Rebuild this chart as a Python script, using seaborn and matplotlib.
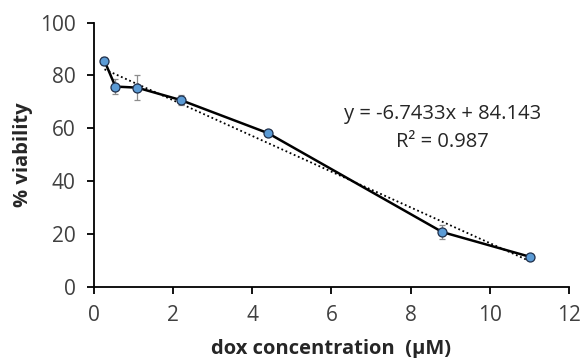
import numpy as np
import pandas as pd
import seaborn as sns
import matplotlib.pyplot as plt

# data
dose = [0.275, 0.55, 1.1, 2.2, 4.4, 8.8, 11.0]
viability = [85.5, 75.8, 75.4, 70.7, 58.2, 20.8, 11.5]
viability_sd = [1.5, 2.8, 4.8, 1.8, 1.2, 2.8, 1.0]

df = pd.DataFrame({'dose': dose, 'viability': viability, 'sd': viability_sd})

sns.set_style('white')
plt.rcParams['font.family'] = ['Open Sans', 'DejaVu Sans']
plt.rcParams['font.size'] = 14

fig = plt.figure(figsize=(5.85, 3.58), dpi=100)
ax = fig.add_axes([0.16, 0.198, 0.813, 0.739])

# trendline (dotted)
sns.regplot(data=df, x='dose', y='viability', ci=None, scatter=False, truncate=True,
            line_kws={'color': 'black', 'linestyle': (0, (1, 1.5)), 'linewidth': 1.3}, ax=ax)

ax.errorbar(df['dose'], df['viability'], yerr=df['sd'], fmt='none',
            ecolor='#8c8c8c', elinewidth=0.9, capsize=2.5, capthick=0.9, zorder=2)
sns.lineplot(data=df, x='dose', y='viability', color='black', linewidth=1.8,
             marker='o', markersize=6.5, markerfacecolor='#5b9bd5',
             markeredgecolor='#1f2f4a', markeredgewidth=0.9, zorder=3, ax=ax)

ax.text(8.8, 65.5, 'y = -6.7433x + 84.143', ha='center', va='center', fontsize=14.5, color='#262626')
ax.text(8.8, 55.0, 'R² = 0.987', ha='center', va='center', fontsize=14.5, color='#262626')

ax.set_xlim(0, 12)
ax.set_ylim(0, 100)
ax.set_xticks(range(0, 13, 2))
ax.set_yticks(range(0, 101, 20))
ax.set_xlabel('dox concentration  (µM)', fontweight='bold', fontsize=14.5, color='#262626', labelpad=9)
ax.set_ylabel('% viability', fontweight='bold', fontsize=14.5, color='#262626', labelpad=5)

sns.despine(ax=ax)
for s in ['left', 'bottom']:
    ax.spines[s].set_color('black')
    ax.spines[s].set_linewidth(1.3)
ax.tick_params(axis='both', direction='out', length=5, width=1.3, color='black',
               labelsize=15, labelcolor='#404040', pad=8)
ax.tick_params(axis='y', left=True)
ax.tick_params(axis='x', bottom=True)

fig.savefig('out.png', dpi=100)
